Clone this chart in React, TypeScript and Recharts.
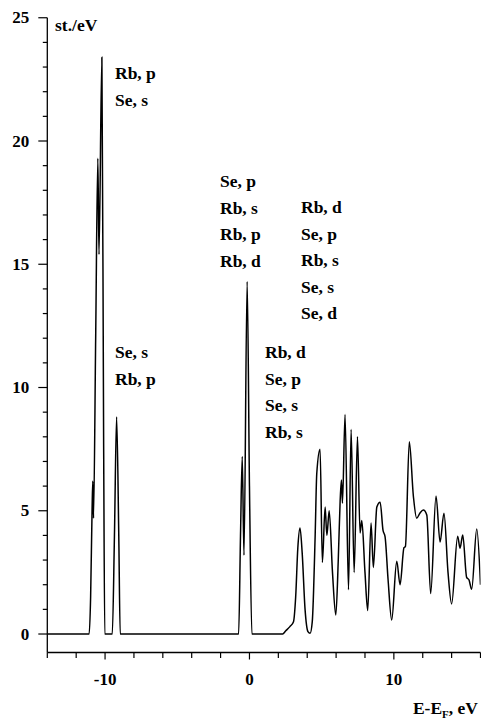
import React from "react";
import { LineChart, Line, XAxis, YAxis } from "recharts";

const energies: number[] = [
  -14, -11.1, -11.0, -10.9, -10.85, -10.8, -10.65, -10.5, -10.42, -10.22, -10.1, -10.02,
  -9.5, -9.35, -9.2, -9.05, -8.95,
  -0.75, -0.62, -0.5, -0.38, -0.16, 0.0, 0.17,
  2.3, 2.5, 2.8, 3.05, 3.2, 3.35, 3.5, 3.65, 3.85, 4.05, 4.2,
  4.35, 4.55, 4.66, 4.89, 5.05, 5.24, 5.36, 5.52, 5.75, 5.98,
  6.15, 6.28, 6.37, 6.44, 6.62, 6.86, 7.04, 7.25, 7.48, 7.66, 7.78,
  8.0, 8.19, 8.42, 8.58, 8.82, 9.05, 9.25, 9.39, 9.6, 9.85,
  10.2, 10.43, 10.7, 10.8, 11.07, 11.35, 11.58, 11.8, 12.04, 12.28,
  12.55, 12.92, 13.2, 13.47, 13.75, 14.0, 14.42, 14.58, 14.77,
  15.04, 15.2, 15.39, 15.74, 16.0,
];

const dos: number[] = [
  0, 0, 1.5, 5.0, 6.2, 4.7, 12, 19.3, 15.4, 23.4, 8, 0,
  0, 4, 8.8, 4, 0,
  0, 4, 7.2, 3.2, 14.3, 6, 0,
  0, 0.12, 0.3, 0.5, 1.5, 3.5, 4.3, 3.3, 1.0, 0.1, 0.03,
  0.5, 4.0, 6.5, 7.5, 2.9, 5.15, 4.0, 5.0, 2.5, 0.77,
  3.0, 5.4, 6.25, 5.3, 8.9, 1.8, 8.3, 2.5, 8.0, 4.1, 4.6,
  2.5, 0.95, 4.5, 2.7, 5.15, 5.35, 4.2, 3.95, 2.2, 0.57,
  2.95, 2.0, 3.5, 3.55, 7.8, 5.6, 4.7, 4.9, 5.03, 4.83,
  1.64, 5.6, 3.73, 4.9, 2.5, 1.22, 3.97, 3.48, 4.02,
  2.3, 2.2, 1.82, 4.26, 2.0,
];

const xTicks: number[] = [-14, -12, -10, -8, -6, -4, -2, 0, 2, 4, 6, 8, 10, 12, 14, 16];
const yTicks: number[] = Array.from({ length: 26 }, (_, i) => i);

const annotations: { x: number; y: number; lines: string[] }[] = [
  { x: 115, y: 79, lines: ["Rb, p", "Se, s"] },
  { x: 115, y: 358, lines: ["Se, s", "Rb, p"] },
  { x: 220, y: 187, lines: ["Se, p", "Rb, s", "Rb, p", "Rb, d"] },
  { x: 301, y: 213, lines: ["Rb, d", "Se, p", "Rb, s", "Se, s", "Se, d"] },
  { x: 265, y: 358, lines: ["Rb, d", "Se, p", "Se, s", "Rb, s"] },
];

const data = energies.map((e, i) => ({ e, v: dos[i] }));

const FONT = "'Liberation Serif', 'Times New Roman', serif";

const YTick = (props: any) => {
  const { x, y, payload } = props;
  const v = payload.value as number;
  const major = v % 5 === 0;
  return (
    <g>
      <line x1={x} x2={x - (major ? 9 : 4.5)} y1={y} y2={y} stroke="#000" strokeWidth={1.2} />
      {major && (
        <text x={x - 18} y={y} textAnchor="end" dominantBaseline="central" style={{ fontFamily: FONT, fontWeight: 700, fontSize: 17 }} fill="#000">
          {v}
        </text>
      )}
    </g>
  );
};

const XTick = (props: any) => {
  const { x, y, payload } = props;
  const v = payload.value as number;
  const major = v % 10 === 0;
  return (
    <g>
      <line x1={x} x2={x} y1={y} y2={y + (major ? 7 : 5.5)} stroke="#000" strokeWidth={1.2} />
      {major && (
        <text x={x} y={y + 27} textAnchor="middle" dominantBaseline="central" style={{ fontFamily: FONT, fontWeight: 700, fontSize: 17 }} fill="#000">
          {v}
        </text>
      )}
    </g>
  );
};

export default function App() {
  return (
    <div style={{ position: "absolute", left: 0, top: 0, width: 481, height: 722, background: "#fff" }}>
      <LineChart
        width={481}
        height={722}
        data={data}
        margin={{ top: 17.75, right: 0.5, left: 0, bottom: 0 }}
      >
        <XAxis
          dataKey="e"
          type="number"
          domain={[-14, 16]}
          ticks={xTicks}
          allowDataOverflow
          height={69.5}
          tickSize={0}
          tickMargin={0}
          tickLine={false}
          axisLine={{ stroke: "#000", strokeWidth: 1.3 }}
          tick={(p: any) => <XTick {...p} />}
          interval={0}
        />
        <YAxis
          type="number"
          domain={[-0.75, 25]}
          ticks={yTicks}
          allowDataOverflow
          width={47.3}
          tickSize={0}
          tickMargin={0}
          tickLine={false}
          axisLine={{ stroke: "#000", strokeWidth: 1.3 }}
          tick={(p: any) => <YTick {...p} />}
          interval={0}
        />
        <Line
          type="monotone"
          dataKey="v"
          stroke="#000"
          strokeWidth={1.5}
          dot={false}
          isAnimationActive={false}
        />
      </LineChart>
      <svg width={481} height={722} style={{ position: "absolute", left: 0, top: 0, pointerEvents: "none" }}>
        <g fontFamily={FONT} fontWeight="bold" fontSize={17.5} fill="#000">
          <text x={55} y={31}>st./eV</text>
          {annotations.map((a, i) =>
            a.lines.map((t, j) => (
              <text key={`${i}-${j}`} x={a.x} y={a.y + j * 26.5}>
                {t}
              </text>
            ))
          )}
          <text x={478} y={714} textAnchor="end">
            E-E<tspan fontSize={11} dy={4}>F</tspan>
            <tspan dy={-4}>, eV</tspan>
          </text>
        </g>
      </svg>
    </div>
  );
}
